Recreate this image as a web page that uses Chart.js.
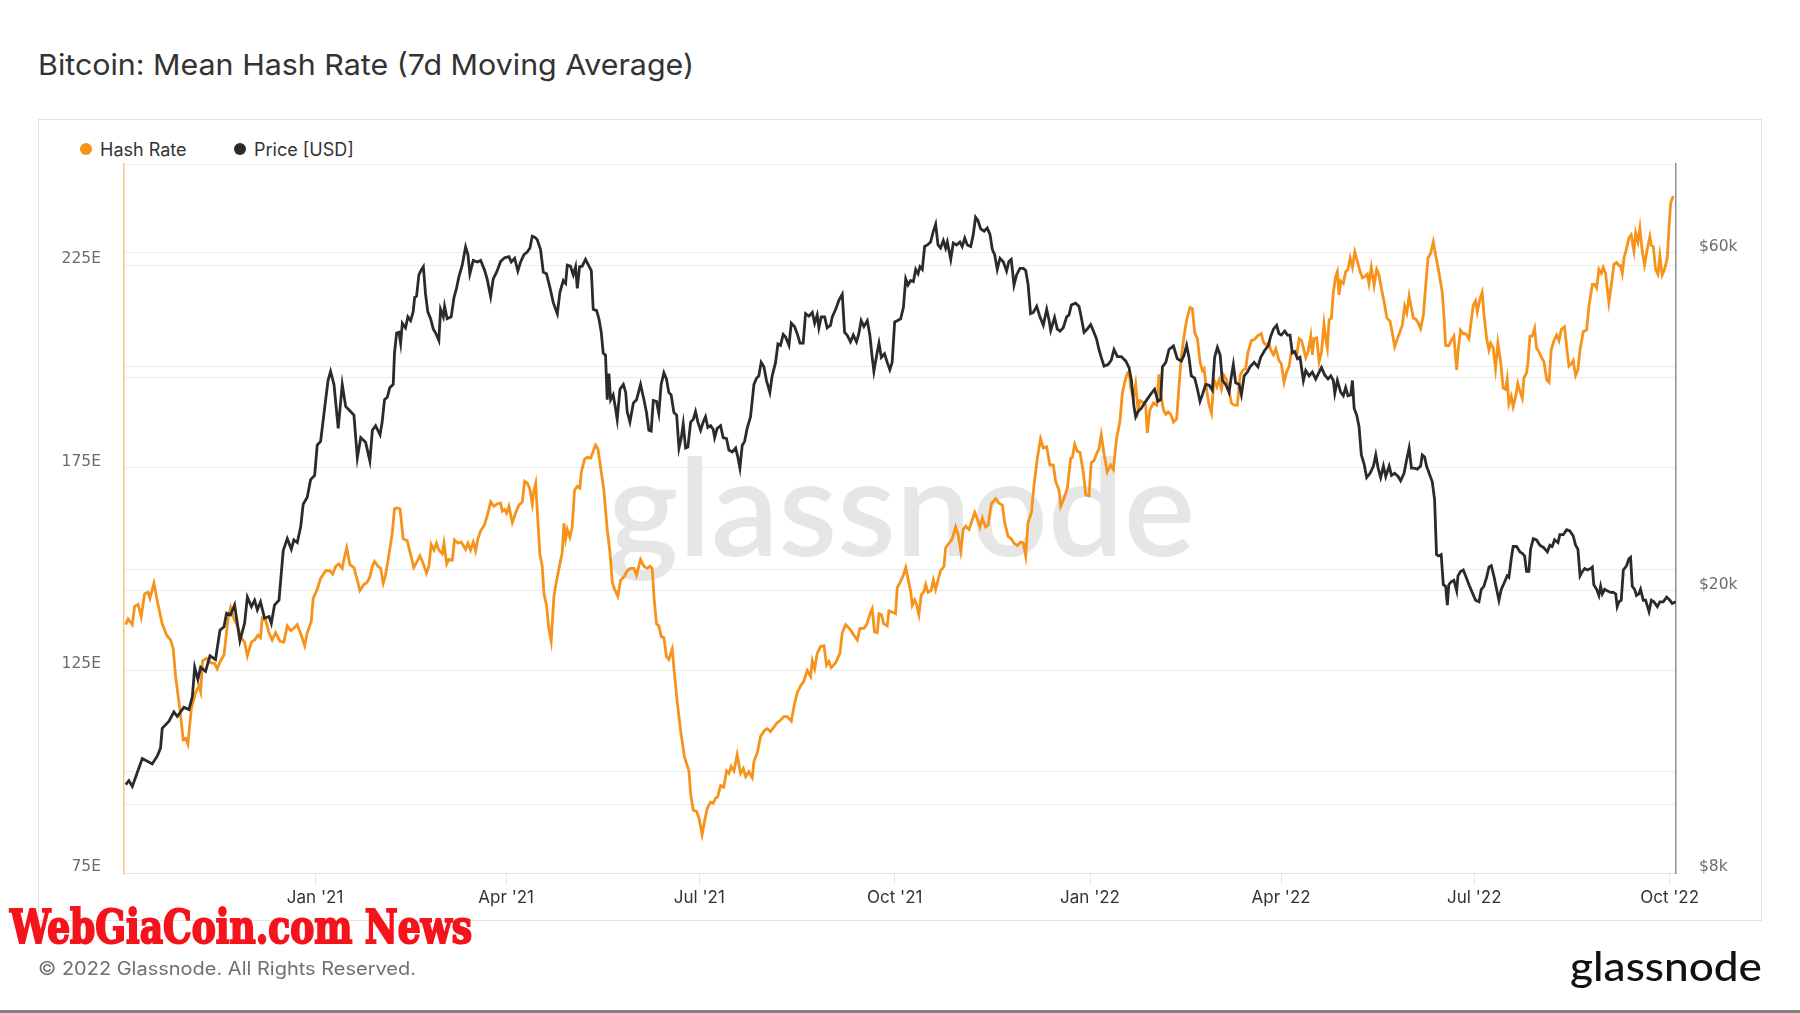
<!DOCTYPE html>
<html>
<head>
<meta charset="utf-8">
<script src="https://cdn.jsdelivr.net/npm/chart.js@4.4.0/dist/chart.umd.min.js"></script>
<style>
  html, body { margin: 0; padding: 0; background: #fff; }
  body { width: 1800px; height: 1013px; position: relative; overflow: hidden; font-family: Inter, "Noto Sans", sans-serif; }
  .abs { position: absolute; white-space: nowrap; transform-origin: 0 0; line-height: 1; }
  #box { position: absolute; left: 38px; top: 119px; width: 1724px; height: 802px; box-sizing: border-box; border: 1px solid #e4e4e4; }
  #title { left: 38px; top: 50px; font-size: 29px; font-weight: 400; color: #333; }
  .leg { position: absolute; top: 137px; height: 24px; display: flex; align-items: center; font-size: 18px; color: #333; }
  .dot { width: 12px; height: 12px; border-radius: 50%; margin-right: 8px; }
  #copy { left: 38px; top: 960px; font-size: 18px; color: #707070; }
  #banner { left: 10px; top: 904px; font-family: "DejaVu Serif", serif; font-weight: bold; font-stretch: condensed; font-size: 46px; color: #f5141c; -webkit-text-stroke: 2px #f5141c; }
  #logo { left: 1570px; top: 946px; font-family: Lato, sans-serif; font-weight: 500; font-size: 40px; color: #111; }
  #bottomline { position: absolute; left: 0; top: 1010px; width: 1800px; height: 3px; background: #808080; }
  canvas { position: absolute; left: 0; top: 0; }
</style>
</head>
<body>
<div id="box"></div>
<div id="title" class="abs" data-w="656">Bitcoin: Mean Hash Rate (7d Moving Average)</div>
<div class="leg" style="left:80px"><span class="dot" style="background:#f7931a"></span>Hash Rate</div>
<div class="leg" style="left:234px"><span class="dot" style="background:#2b2b2b"></span>Price [USD]</div>
<canvas id="chart" width="1800" height="1013"></canvas>
<div id="banner" class="abs" data-w="462">WebGiaCoin.com News</div>
<div id="copy" class="abs" data-w="378">© 2022 Glassnode. All Rights Reserved.</div>
<div id="logo" class="abs" data-w="192">glassnode</div>
<div id="bottomline"></div>
<script>
// x values are days since 1 Jan 2021

// month ticks on the x axis
const monthTicks = [0, 90, 181, 273, 365, 455, 546, 638];
const monthLabels = ["Jan '21", "Apr '21", "Jul '21", "Oct '21", "Jan '22", "Apr '22", "Jul '22", "Oct '22"];

// left axis (hash rate, EH/s)
const hashLabelTicks = [75, 125, 175, 225];

// right axis (price, log)
const priceGridTicks = [8000, 10000, 20000, 40000, 60000];
const priceTickLabels = { 8000: '$8k', 20000: '$20k', 60000: '$60k' };

const hashDays = [
  // Oct 2020 - Jan 2021
  -89.2, -88.1, -86.1, -85.0, -83.4, -81.9, -80.3, -78.7, -77.8, -75.9,
  -74.0, -72.0, -69.9, -68.0, -66.8, -65.7, -63.7, -62.1, -61.0, -59.9,
  -58.3, -56.3, -54.7, -53.9, -53.0, -51.1, -49.2, -47.3, -46.1, -44.5,
  -42.9, -41.0, -39.8, -38.2, -36.6, -34.8, -33.2, -31.9, -30.0, -28.5,
  -26.9, -25.7, -24.9, -23.3, -21.7, -20.2, -18.6, -16.5, -14.7, -13.1,
  -11.5, -10.0, -8.4, -6.5, -4.9, -3.7, -1.8, -0.9, 1.0, 2.6,
  5.0, 7.0, 8.3, 9.7, 11.2, 12.8, 13.6, 14.9, 16.4, 18.3,
  19.9, 21.1, 23.0, 24.6, 25.8, 27.0, 28.0, 29.6,
  // Feb - May 2021
  30.9, 32.1, 33.2, 34.8, 36.3, 37.4, 38.7, 40.0, 41.5, 43.4,
  45.0, 46.5, 48.1, 49.4, 51.0, 52.5, 53.6, 54.7, 56.0, 57.2,
  58.3, 59.9, 60.7, 62.0, 63.0, 64.6, 65.7, 67.3, 68.8, 70.9,
  72.0, 73.2, 74.5, 75.6, 76.7, 78.0, 79.8, 81.4, 82.7, 84.2,
  85.8, 87.4, 88.2, 89.3, 90.2, 91.3, 92.9, 94.4, 96.0, 97.6,
  98.7, 100.0, 101.2, 102.3, 103.1, 103.9, 104.6, 105.9, 107.0, 107.8,
  109.0, 110.1, 111.2, 112.5, 113.8, 115.3, 116.4, 117.2, 118.0, 118.8,
  120.0, 121.1, 122.2, 123.5, 124.7, 125.4, 127.0, 128.2, 129.8, 131.0,
  132.1, 133.2, 134.5, 136.0, 137.6, 138.9, 140.0, 141.1, 142.6, 143.9,
  145.5, 147.0, 148.6, 150.2, 151.4,
  // Jun - Oct 2021
  153.3, 154.9, 156.4, 157.7, 158.8, 159.6, 160.8, 161.9, 163.0, 164.3,
  165.5, 166.6, 168.2, 169.3, 170.6, 172.1, 174.0, 176.1, 176.9, 178.1,
  179.7, 180.8, 182.3, 183.4, 184.7, 186.3, 187.5, 188.6, 189.7, 191.0,
  192.5, 193.8, 194.9, 196.0, 197.3, 198.8, 200.4, 201.7, 202.8, 204.3,
  205.9, 206.7, 208.3, 209.8, 211.7, 213.0, 214.5, 216.1, 217.7, 219.2,
  220.8, 222.4, 224.3, 225.8, 227.1, 228.7, 230.2, 231.8, 233.4, 234.2,
  235.3, 236.5, 238.1, 239.7, 240.9, 242.0, 243.1, 245.2, 247.2, 248.3,
  249.9, 251.9, 253.8, 255.4, 256.6, 258.5, 259.8, 261.3, 262.4, 263.5,
  264.8, 265.6, 266.7, 267.9, 269.5, 270.3, 271.8, 273.4, 274.2,
  // Oct 2021 - Feb 2022
  275.8, 277.1, 278.2, 279.3, 280.5, 281.3, 282.4, 283.3, 284.4, 285.5,
  286.8, 287.6, 288.7, 290.2, 291.2, 292.3, 293.4, 294.6, 296.2, 297.0,
  298.6, 300.1, 301.7, 302.8, 304.1, 305.3, 306.4, 308.0, 309.1, 310.7,
  311.9, 313.2, 314.3, 315.8, 317.0, 318.5, 320.5, 322.1, 323.7, 324.8,
  326.4, 327.9, 329.2, 330.8, 332.3, 333.6, 334.7, 335.8, 337.4, 338.6,
  340.2, 341.7, 343.0, 344.6, 346.1, 347.7, 348.8, 350.4, 351.2, 352.7,
  354.3, 355.9, 356.7, 357.8, 359.0, 360.3, 361.8, 363.0, 364.5, 365.6,
  366.9, 368.1, 369.2, 370.3, 371.6, 373.1, 374.7, 376.0, 377.5, 379.1,
  380.2, 381.3, 382.6, 383.4, 384.1, 385.4, 386.5, 387.6, 388.5, 389.6,
  391.2, 392.0, 393.2, 394.8, 396.4, 397.5,
  // Feb - Jun 2022
  398.3, 399.6, 400.7, 401.8, 403.0, 404.3, 405.8, 406.9, 408.0, 409.3,
  410.5, 412.1, 413.2, 414.3, 415.6, 416.8, 417.9, 418.7, 420.0, 421.1,
  422.2, 423.4, 424.7, 425.8, 426.9, 428.1, 429.4, 430.5, 431.6, 432.8,
  434.4, 435.7, 436.8, 438.3, 439.4, 441.0, 442.6, 443.8, 445.7, 446.7,
  448.2, 449.3, 450.1, 451.4, 452.5, 454.0, 455.1, 456.4, 457.6, 458.7,
  459.8, 461.1, 462.4, 463.5, 464.6, 465.5, 466.6, 467.7, 469.0, 469.7,
  470.5, 471.8, 472.9, 474.0, 475.2, 476.0, 476.8, 477.6, 478.7, 479.6,
  480.7, 481.5, 482.3, 483.1, 484.3, 485.4, 486.5, 487.5, 488.6, 489.7,
  490.9, 492.2, 493.3, 494.4, 495.6, 496.4, 497.5, 498.8, 500.0, 501.1,
  502.2, 503.5, 504.8, 506.3, 507.4, 508.5, 509.8, 511.0, 512.1, 513.2,
  514.2, 515.3, 516.4, 517.3, 518.4, 519.5,
  // Jun - Oct 2022
  520.7, 522.0, 523.1, 524.2, 525.4, 526.7, 527.8, 529.3, 530.9, 531.7,
  532.5, 534.0, 535.1, 536.4, 537.7, 538.3, 539.5, 540.8, 541.9, 543.5,
  544.3, 545.5, 546.6, 547.4, 548.6, 549.7, 550.5, 551.8, 552.9, 553.7,
  554.9, 556.0, 557.1, 558.4, 559.6, 560.7, 561.5, 562.3, 563.4, 564.3,
  565.5, 566.5, 567.5, 568.6, 569.4, 570.6, 571.3, 572.2, 573.3, 574.4,
  575.3, 576.4, 577.5, 578.8, 580.1, 581.2, 582.2, 583.5, 584.8, 585.9,
  587.0, 588.5, 589.8, 590.6, 591.7, 592.6, 593.7, 594.8, 595.8, 597.3,
  598.9, 600.0, 601.6, 602.7, 603.6, 604.7, 605.8, 606.7, 607.8, 608.6,
  609.4, 610.5, 611.8, 613.0, 614.1, 614.9, 615.7, 616.5, 617.7, 618.8,
  619.9, 621.2, 622.0, 623.1, 624.0, 625.1, 626.2, 627.5, 628.7, 629.4,
  630.3, 631.4, 632.5, 633.4, 634.5, 635.6, 636.9, 637.7, 638.5, 639.7
];

const hashRate = [
  136.3, 137.7, 136.3, 140.8, 141.3, 138.2, 143.9, 144.3, 142.8, 146.5,
  141.3, 136.5, 133.7, 132.5, 130.3, 123.5, 115.5, 107.9, 108.2, 106.8,
  115.5, 119.5, 121.2, 119.7, 127.4, 128.0, 126.9, 126.7, 125.4, 127.4,
  128.8, 137.7, 140.5, 137.7, 136.0, 133.1, 132.0, 128.6, 132.0, 132.5,
  133.7, 133.1, 137.9, 137.4, 134.3, 132.5, 134.3, 132.2, 132.0, 136.0,
  134.8, 135.4, 136.3, 133.7, 131.1, 134.3, 137.1, 142.8, 145.0, 147.7,
  149.6, 149.6, 148.8, 150.7, 151.3, 150.2, 152.4, 155.3, 151.1, 150.4,
  147.3, 144.7, 146.2, 146.8, 148.1, 150.7, 151.9, 150.7,

  150.2, 146.5, 148.5, 153.6, 158.7, 164.9, 165.1, 164.9, 157.5, 157.0,
  153.6, 150.4, 151.9, 153.3, 151.3, 149.0, 150.7, 156.1, 154.7, 156.4,
  154.7, 153.8, 156.4, 151.3, 152.4, 152.2, 157.2, 156.4, 156.7, 154.9,
  156.4, 154.7, 156.7, 154.5, 157.5, 159.5, 160.9, 163.8, 166.6, 165.5,
  166.1, 166.3, 164.3, 164.7, 163.8, 165.5, 161.5, 163.8, 165.8, 166.6,
  171.7, 171.2, 169.7, 166.1, 169.5, 171.2, 164.9, 153.6, 150.7, 143.9,
  141.1, 135.4, 132.2, 143.3, 147.3, 151.3, 154.1, 161.3, 157.5, 159.8,
  157.9, 160.4, 169.5, 170.4, 170.0, 174.0, 177.2, 177.6, 177.4, 179.1,
  180.6, 179.7, 175.1, 169.5, 159.8, 154.1, 146.8, 145.0, 143.3, 147.3,
  148.1, 149.6, 150.2, 150.2, 148.5,

  152.4, 150.7, 150.2, 150.7, 150.2, 143.3, 136.5, 136.0, 133.4, 133.1,
  128.4, 127.7, 130.3, 124.0, 117.2, 110.4, 103.6, 100.2, 94.5, 90.5,
  90.2, 88.6, 84.5, 87.7, 90.9, 92.5, 92.2, 93.4, 93.9, 96.6,
  96.2, 100.2, 99.6, 101.3, 100.2, 104.2, 99.6, 100.8, 98.8, 100.0,
  98.5, 102.5, 104.7, 108.7, 110.2, 110.6, 109.9, 111.0, 112.1, 112.7,
  113.6, 113.6, 112.5, 116.7, 119.5, 121.2, 122.3, 125.0, 123.5, 127.4,
  125.4, 129.2, 130.9, 131.1, 126.3, 127.2, 125.7, 126.9, 129.2, 134.3,
  136.3, 135.2, 133.7, 132.5, 135.4, 135.4, 136.3, 138.8, 140.2, 134.5,
  134.3, 139.0, 138.8, 136.5, 136.0, 139.7, 139.4, 139.0, 145.4,

  147.0, 148.5, 150.4, 147.6, 144.5, 141.1, 142.4, 141.3, 138.8, 143.6,
  144.5, 146.2, 144.3, 144.7, 147.3, 145.0, 147.3, 149.6, 150.7, 155.3,
  156.4, 157.5, 160.4, 158.7, 154.5, 159.8, 160.6, 159.8, 161.5, 164.0,
  162.4, 160.4, 162.6, 160.4, 160.9, 166.1, 167.4, 166.3, 165.8, 161.5,
  158.1, 157.5, 156.4, 155.8, 156.7, 156.4, 153.3, 161.5, 164.0, 170.6,
  177.4, 182.2, 179.9, 180.2, 175.7, 175.7, 171.7, 169.5, 165.5, 167.4,
  170.0, 177.4, 177.6, 180.8, 179.1, 178.8, 174.0, 168.3, 168.1, 176.3,
  176.8, 178.5, 179.7, 183.1, 178.5, 174.0, 175.7, 174.6, 182.2, 186.5,
  193.3, 196.1, 198.4, 198.7, 195.0, 192.2, 195.6, 189.3, 191.6, 191.3,
  190.5, 183.6, 189.3, 191.0, 190.5, 198.1,

  193.3, 189.3, 188.2, 188.8, 188.2, 186.3, 187.1, 195.0, 202.4, 207.5,
  211.5, 214.6, 214.3, 208.3, 206.9, 201.2, 199.0, 199.5, 193.9, 190.5,
  188.5, 196.7, 195.0, 196.7, 194.4, 197.8, 196.7, 193.9, 191.0, 190.5,
  190.5, 197.8, 199.0, 199.5, 203.5, 206.4, 206.7, 207.5, 208.1, 206.0,
  205.2, 206.0, 204.1, 202.9, 204.4, 201.5, 200.7, 196.1, 198.7, 199.9,
  203.5, 203.5, 202.9, 206.9, 206.4, 204.6, 202.2, 203.7, 207.5, 202.9,
  206.9, 207.1, 201.2, 203.5, 210.5, 206.9, 204.6, 211.5, 212.0, 218.3,
  222.2, 223.4, 217.7, 221.1, 220.5, 223.4, 224.0, 226.8, 224.5, 228.3,
  226.0, 223.4, 221.9, 222.2, 222.8, 220.5, 224.5, 220.0, 224.0, 222.6,
  219.4, 216.0, 212.0, 211.2, 208.3, 204.9, 206.9, 208.6, 210.3, 214.9,
  213.2, 217.4, 214.3, 212.0, 211.7, 210.9,

  209.4, 212.6, 220.0, 226.8, 227.9, 230.8, 227.4, 223.4, 218.3, 212.6,
  205.2, 205.2, 206.4, 207.5, 199.2, 203.5, 209.0, 208.1, 208.1, 206.9,
  210.3, 215.1, 216.2, 213.5, 216.6, 218.3, 213.2, 206.9, 204.1, 205.8,
  204.6, 199.5, 205.8, 201.2, 194.7, 194.4, 196.9, 190.8, 192.7, 190.1,
  192.7, 195.8, 193.9, 192.2, 197.3, 198.4, 201.2, 207.5, 207.5, 209.4,
  204.6, 203.7, 202.4, 201.2, 196.7, 196.1, 204.1, 206.4, 207.8, 206.4,
  209.2, 209.8, 203.5, 200.1, 200.7, 201.5, 197.8, 199.2, 204.1, 208.6,
  209.0, 214.9, 220.3, 220.3, 219.4, 224.0, 223.0, 224.5, 223.0, 219.4,
  215.8, 220.0, 225.3, 225.7, 224.9, 224.9, 223.0, 226.8, 229.1, 231.7,
  232.5, 228.5, 233.0, 230.8, 234.2, 228.5, 225.1, 229.1, 232.1, 229.9,
  229.6, 224.0, 222.8, 227.4, 222.6, 224.0, 226.8, 234.2, 240.4, 242.1
];

const priceDays = [
  -89.2, -87.7, -86.1, -83.7, -81.4, -79.0, -76.7, -74.3, -72.8, -72.0,
  -68.8, -66.5, -64.9, -61.8, -59.4, -57.8, -56.7, -55.2, -53.9, -51.6,
  -49.5, -46.9, -44.8, -42.9, -41.7, -39.8, -37.9, -35.4, -33.2, -31.9,
  -30.0, -28.5, -27.2, -25.7, -23.8, -21.7, -20.6, -19.1, -17.0, -15.9,
  -15.0, -13.1, -11.2, -10.0, -8.4, -6.8, -5.6, -3.7, -2.1, -0.2,
  1.0, 2.6, 4.5, 6.1, 7.3, 8.9, 10.9, 12.8, 14.4, 16.7,
  18.3, 19.9, 21.5, 23.8, 25.8, 27.0, 28.5, 30.6,

  31.6, 32.7, 34.0, 35.2, 36.8, 37.4, 38.4, 39.5, 40.3, 41.1,
  42.6, 43.7, 45.0, 46.2, 46.9, 47.8, 48.9, 50.0, 51.0, 52.0,
  53.1, 54.4, 55.7, 56.8, 58.3, 59.1, 60.4, 61.0, 62.2, 64.1,
  65.4, 66.6, 67.7, 69.3, 70.9, 72.0, 72.9, 74.5, 76.4, 78.0,
  79.8, 81.1, 82.7, 83.9, 85.5, 87.4, 89.3, 91.3, 92.4, 94.0,
  95.5, 96.8, 98.4, 99.9, 101.2, 102.3, 103.4, 104.6, 106.2, 107.5,
  109.0, 110.6, 112.2, 114.1, 115.3, 116.9, 118.0, 118.8, 120.3, 121.6,
  122.7, 123.5, 124.6, 125.8, 127.4, 129.0, 130.1, 131.0, 132.6, 133.7,
  134.8, 135.7, 136.8, 137.6, 138.4, 139.2, 140.4, 141.5, 142.3, 143.6,
  145.2, 146.3, 147.0, 148.3, 149.9, 151.4,

  153.3, 154.9, 156.1, 157.2, 158.3, 159.3, 160.8, 161.9, 163.0, 164.3,
  165.5, 166.6, 167.7, 169.0, 170.3, 171.4, 172.5, 173.4, 174.5, 175.6,
  176.9, 178.1, 179.2, 180.3, 181.6, 182.8, 183.9, 185.0, 186.3, 187.5,
  188.2, 189.4, 191.0, 192.2, 193.8, 194.9, 196.5, 198.1, 199.1, 200.1,
  201.2, 202.3, 203.5, 205.1, 206.7, 207.9, 209.0, 210.1, 211.4, 212.6,
  214.2, 215.3, 216.9, 218.0, 219.2, 220.5, 221.6, 223.2, 224.3, 225.8,
  227.1, 228.4, 229.9, 231.0, 232.6, 234.2, 235.3, 236.5, 237.3, 238.4,
  240.0, 241.2, 242.8, 243.6, 245.2, 246.7, 248.3, 249.4, 250.6, 252.2,
  253.5, 255.0, 256.1, 257.2, 258.5, 260.1, 261.3, 262.4, 263.2, 264.5,
  265.6, 266.7, 268.2, 269.5, 270.7, 271.8, 273.0, 274.2,

  275.8, 277.1, 278.2, 279.3, 280.5, 281.8, 282.9, 284.0, 284.9, 286.0,
  287.1, 288.4, 289.9, 291.2, 292.3, 293.4, 294.6, 295.9, 297.0, 297.8,
  299.4, 300.6, 302.2, 303.7, 304.8, 306.0, 307.2, 308.8, 310.0, 311.1,
  312.2, 313.5, 315.1, 316.6, 317.9, 319.0, 320.1, 321.3, 322.6, 324.2,
  325.7, 326.8, 327.9, 329.2, 330.4, 332.0, 333.6, 334.7, 335.8, 337.0,
  338.3, 339.9, 341.4, 343.0, 344.6, 345.7, 346.5, 348.3, 349.6, 350.9,
  352.4, 354.0, 355.1, 356.2, 358.2, 359.8, 360.9, 362.2, 363.7, 365.3,
  366.6, 368.1, 369.2, 370.3, 371.6, 373.5, 375.0, 376.3, 377.9, 379.7,
  381.8, 383.4, 384.5, 385.7, 386.5, 387.6, 389.2, 390.7, 392.3, 393.9,
  395.4, 397.0,

  398.3, 399.1, 400.7, 402.2, 404.3, 406.1, 408.0, 409.3, 410.5, 411.6,
  412.7, 414.3, 415.6, 416.8, 417.9, 419.5, 421.1, 422.6, 423.7, 425.0,
  426.3, 427.3, 428.9, 430.5, 431.6, 432.5, 433.6, 435.2, 436.3, 437.6,
  439.1, 440.4, 442.3, 444.1, 445.4, 447.3, 448.9, 450.1, 451.4, 452.9,
  454.0, 455.1, 456.7, 458.0, 459.2, 460.3, 461.4, 462.7, 463.9, 465.5,
  466.6, 468.2, 469.7, 471.3, 472.9, 474.0, 475.6, 477.1, 478.4, 479.6,
  480.3, 481.5, 483.1, 484.3, 485.4, 486.5, 487.8, 488.6, 489.4, 490.6,
  491.7, 492.8, 494.1, 495.3, 496.9, 498.5, 499.6, 500.7, 501.9, 503.2,
  504.3, 505.9, 507.0, 508.5, 510.1, 511.3, 512.9, 514.2, 515.3, 516.4,
  517.6, 519.2,

  520.7, 521.5, 522.6, 523.5, 525.1, 526.2, 527.3, 528.2, 529.3, 530.4,
  531.4, 532.5, 533.3, 534.0, 535.1, 536.4, 537.7, 538.3, 539.5, 540.8,
  541.9, 543.5, 545.0, 546.6, 548.2, 549.3, 550.5, 551.8, 552.9, 554.0,
  555.2, 556.5, 557.6, 558.7, 560.3, 561.5, 562.3, 563.4, 564.3, 565.9,
  567.5, 568.6, 569.7, 570.6, 571.7, 572.5, 573.8, 575.3, 576.9, 578.8,
  580.4, 581.6, 582.7, 583.8, 585.4, 586.3, 587.9, 589.5, 591.0, 592.6,
  593.7, 594.8, 595.8, 596.9, 598.0, 599.2, 600.8, 601.6, 602.3, 603.6,
  604.7, 605.5, 606.3, 607.4, 608.6, 610.2, 611.5, 612.6, 613.3, 614.1,
  615.2, 616.2, 617.7, 618.8, 619.6, 620.4, 621.5, 622.4, 623.5, 624.3,
  625.6, 626.7, 628.3, 629.4, 630.6, 632.2, 633.4, 635.0, 636.6, 638.1,
  639.2, 640.8
];

const priceUsd = [
  10660, 10800, 10600, 11100, 11600, 11500, 11400, 11700, 12000, 12800,
  13100, 13500, 13300, 13700, 13600, 14200, 15600, 15000, 15600, 15400,
  16200, 16000, 17600, 17800, 18600, 18500, 19100, 17000, 18000, 19600,
  19000, 19400, 18800, 19300, 18300, 18400, 18000, 19100, 19400, 21200,
  22800, 23700, 22900, 23600, 23400, 24600, 26500, 27100, 28700, 29100,
  32100, 32500, 36200, 39600, 40800, 39100, 33900, 39100, 36400, 35800,
  35400, 30800, 32900, 32400, 30500, 33700, 34200, 33200,

  34600, 37200, 37500, 38700, 39100, 43300, 46200, 46300, 44700, 47700,
  47000, 48700, 48100, 49500, 51900, 52100, 55800, 56700, 57300, 52500,
  49500, 48400, 46800, 46200, 45100, 49900, 48700, 50400, 48400, 48700,
  51800, 53400, 55400, 57600, 61100, 59600, 56000, 58500, 58200, 58500,
  56700, 55000, 52000, 55100, 56300, 58300, 59000, 59200, 58200, 58900,
  56500, 58200, 59600, 60100, 60900, 63300, 63100, 62600, 60600, 56300,
  56000, 53600, 51000, 49200, 52700, 54800, 54300, 57600, 57400, 55800,
  57300, 53400, 57300, 57400, 58700, 57400, 56600, 49900, 49700, 48400,
  46300, 43300, 43000, 37200, 40500, 37200, 37800, 36200, 34900, 38500,
  39100, 38100, 35800, 34600, 36800, 37200,

  39100, 37200, 35700, 33700, 33600, 37100, 37000, 35600, 39100, 40600,
  39800, 38100, 37800, 35700, 35400, 31800, 32900, 34400, 31800, 31900,
  34600, 34900, 35800, 34600, 33700, 34600, 35200, 34000, 34200, 33800,
  32900, 33900, 34200, 32900, 32800, 31600, 31400, 31800, 30900, 29800,
  32100, 32500, 33900, 35200, 39100, 39900, 40200, 42000, 41400, 39600,
  38100, 40200, 42000, 44600, 44400, 46000, 45600, 44400, 47700, 47200,
  46100, 44700, 44700, 49200, 48800, 49400, 47700, 49000, 47000, 48700,
  48700, 47000, 47400, 48700, 49900, 51400, 52400, 46300, 45900, 44900,
  45900, 44900, 46100, 48100, 47200, 48100, 45900, 42700, 40800, 43000,
  44700, 42700, 43200, 42000, 41000, 42000, 47900, 48100,

  48400, 50200, 55100, 54000, 54800, 54600, 56800, 56000, 57300, 56800,
  61200, 61500, 62100, 64300, 65800, 61500, 60900, 62400, 60900, 62100,
  58700, 61900, 61500, 62100, 61200, 62900, 61500, 61200, 63600, 67300,
  66600, 64800, 64300, 65000, 63600, 60600, 59600, 56800, 58900, 58200,
  56500, 58300, 58700, 54000, 55800, 57000, 57000, 56600, 54200, 49200,
  49400, 50400, 48700, 47400, 49900, 48200, 46600, 48600, 46800, 46500,
  47000, 48700, 49000, 50600, 50900, 50400, 48600, 46300, 46800, 47500,
  46500, 45300, 43800, 42700, 41500, 41700, 42300, 43800, 42800, 42800,
  42200, 41300, 39600, 36400, 35200, 35800, 36200, 36800, 37400, 38000,
  38500, 37000,

  37200, 41400, 42000, 43800, 44300, 42500, 42200, 43000, 44400, 42700,
  40200, 39900, 38500, 37000, 37800, 39100, 39000, 38400, 42700, 44100,
  43000, 39600, 39100, 38100, 40200, 41700, 39300, 39100, 37800, 40200,
  40700, 41400, 42000, 41400, 42700, 43700, 44300, 45700, 46800, 47400,
  46100, 45900, 46500, 45900, 45900, 43300, 43500, 42500, 42700, 39600,
  40900, 40200, 40700, 39800, 40700, 41300, 40300, 39800, 40200, 39600,
  38000, 39600, 38100, 37700, 38700, 37700, 37800, 39600, 36200, 35400,
  34100, 31100, 30200, 28900, 29300, 30000, 31100, 29800, 28900, 30000,
  29000, 30000, 29100, 29300, 29000, 28600, 29300, 30700, 31800, 29800,
  29800, 29700,

  30000, 31100, 30900, 30000, 29100, 28500, 26900, 22500, 22400, 22500,
  20400, 20300, 19100, 20400, 20600, 20700, 20000, 21000, 21300, 21400,
  21000, 20400, 19900, 19400, 19300, 20100, 20300, 20900, 21600, 21700,
  21000, 20100, 19400, 20100, 20600, 21000, 20900, 22200, 23100, 23100,
  22700, 22600, 22400, 21300, 21300, 22900, 23700, 23600, 23200, 23000,
  22700, 23200, 23100, 23600, 23400, 24000, 24000, 24400, 24300, 23900,
  23200, 22900, 21000, 21300, 21500, 21400, 21500, 21600, 20400, 20100,
  19700, 20300, 19800, 20100, 20000, 19900, 19900, 19800, 19000, 19300,
  19400, 21400, 21700, 22200, 22300, 20300, 20100, 19700, 19800, 20100,
  19400, 19400, 18700, 19400, 19300, 19000, 19300, 19300, 19600, 19400,
  19200, 19300
];

const hashPoints = hashDays.map((d, i) => ({ x: d, y: hashRate[i] }));
const pricePoints = priceDays.map((d, i) => ({ x: d, y: priceUsd[i] }));

// big faint logo behind the lines
const watermark = {
  id: 'watermark',
  beforeDatasetsDraw(chart) {
    const ctx = chart.ctx;
    ctx.save();
    ctx.font = '600 134px Lato';
    const w = ctx.measureText('glassnode').width;
    ctx.translate(608, 556);
    ctx.scale(587 / w, 1);
    ctx.fillStyle = '#e6e6e6';
    ctx.fillText('glassnode', 0, 0);
    ctx.restore();
  }
};

const axisFont = { family: 'DejaVu Sans', size: 15.5 };

new Chart(document.getElementById('chart').getContext('2d'), {
  type: 'line',
  data: {
    datasets: [
      {
        label: 'Price [USD]',
        data: pricePoints,
        yAxisID: 'y1',
        borderColor: '#2b2b2b',
        borderWidth: 2.8,
        pointRadius: 0,
        order: 1
      },
      {
        label: 'Hash Rate',
        data: hashPoints,
        yAxisID: 'y',
        borderColor: '#f7931a',
        borderWidth: 2.8,
        pointRadius: 0,
        order: 2
      }
    ]
  },
  options: {
    responsive: false,
    animation: false,
    devicePixelRatio: 1,
    layout: { padding: { left: 38, right: 38, top: 164, bottom: 92 } },
    plugins: { legend: { display: false }, tooltip: { enabled: false } },
    scales: {
      x: {
        type: 'linear',
        min: -90,
        max: 641,
        afterFit(s) { s.height = 48; },
        afterBuildTicks(s) { s.ticks = monthTicks.map(v => ({ value: v })); },
        ticks: {
          autoSkip: false,
          maxRotation: 0,
          padding: 3,
          color: '#333',
          font: { family: 'Inter', size: 17 },
          callback: (v, i) => monthLabels[i]
        },
        grid: { drawOnChartArea: false, tickLength: 12, color: '#e6e6e6' },
        border: { color: '#e3e3e3' }
      },
      y: {
        type: 'linear',
        position: 'left',
        min: 75,
        max: 250,
        afterFit(s) { s.width = 86; },
        ticks: {
          stepSize: 25,
          autoSkip: false,
          padding: 23,
          labelOffset: -6,
          color: '#6b6b6b',
          font: axisFont,
          callback: v => hashLabelTicks.includes(v) ? v + 'E' : ''
        },
        grid: { color: '#ececec', drawTicks: false },
        border: { color: 'rgba(247,147,26,0.55)', width: 1.5 }
      },
      y1: {
        type: 'logarithmic',
        position: 'right',
        min: 8000,
        max: 80000,
        afterFit(s) { s.width = 86; },
        afterBuildTicks(s) { s.ticks = priceGridTicks.map(v => ({ value: v })); },
        ticks: {
          autoSkip: false,
          padding: 23,
          labelOffset: -6,
          color: '#6b6b6b',
          font: axisFont,
          callback: v => priceTickLabels[v] || ''
        },
        grid: { color: '#ececec', drawTicks: false },
        border: { color: '#8f8f8f', width: 1.5 }
      }
    }
  },
  plugins: [watermark]
});

// stretch the overlay texts to the widths seen in the picture
function fitText() {
  document.querySelectorAll('[data-w]').forEach(el => {
    el.style.transform = 'none';
    const cur = el.getBoundingClientRect().width;
    el.style.transform = 'scaleX(' + (+el.dataset.w / cur) + ')';
  });
}
fitText();
document.fonts.ready.then(fitText);
</script>
</body>
</html>
